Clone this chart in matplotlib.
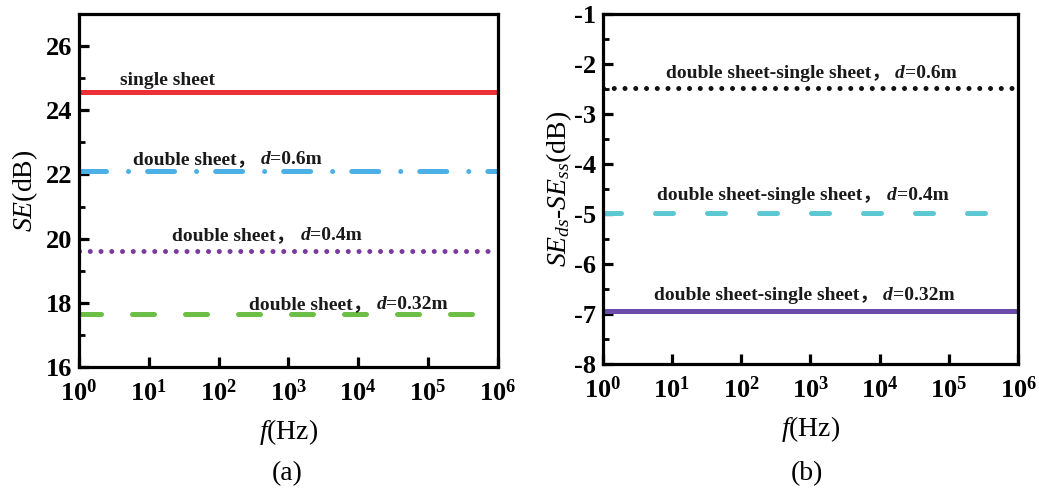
import numpy as np
import matplotlib
matplotlib.use("Agg")
import matplotlib.pyplot as plt
from matplotlib.ticker import FixedLocator, MultipleLocator, LogFormatterSciNotation, NullLocator

plt.rcParams['font.family'] = ['Liberation Serif', 'Noto Sans CJK SC']
plt.rcParams['mathtext.fontset'] = 'custom'
plt.rcParams['mathtext.rm'] = 'Liberation Serif'
plt.rcParams['mathtext.it'] = 'Liberation Serif:italic'
plt.rcParams['mathtext.bf'] = 'Liberation Serif:bold'
plt.rcParams['axes.unicode_minus'] = False

# ---------------- data ----------------
freq = [1.0, 1e6]
se_single = 24.57
se_d06 = 22.10
se_d04 = 19.60
se_d032 = 17.65
diff_d06 = -2.48
diff_d04 = -4.98
diff_d032 = -6.94

xticks = [1e0, 1e1, 1e2, 1e3, 1e4, 1e5, 1e6]
yticks_a = [16, 18, 20, 22, 24, 26]
yticks_b = [-8, -7, -6, -5, -4, -3, -2, -1]

fig = plt.figure(figsize=(10.39, 4.91), dpi=100)
ax1 = fig.add_axes([0.076, 0.2525, 0.403, 0.719])
ax2 = fig.add_axes([0.580, 0.2587, 0.400, 0.713])

TICKFS = 19
LABFS = 20
ANNFS = 14
LW = 3.6


def style_axes(ax):
    ax.set_xscale('log')
    ax.set_xlim(1, 1e6)
    ax.xaxis.set_major_locator(FixedLocator(xticks))
    ax.xaxis.set_minor_locator(NullLocator())
    ax.xaxis.set_major_formatter(LogFormatterSciNotation())
    for s in ax.spines.values():
        s.set_linewidth(2.3)
    ax.tick_params(which='major', direction='in', length=7, width=2.3,
                   labelsize=TICKFS, pad=5, top=False, right=False)
    ax.tick_params(axis='x', which='major', pad=9)
    ax.tick_params(which='minor', direction='in', length=4.5, width=2.0,
                   top=False, right=False)
    for lab in ax.get_xticklabels() + ax.get_yticklabels():
        lab.set_fontweight('bold')


def place_label(ax, x, y, parts):
    prev = None
    for txt, style in parts:
        kw = dict(fontsize=ANNFS, fontweight='bold', va='baseline', ha='left',
                  color='#1a1a1a')
        dx = 0
        if style == 'it':
            kw['fontstyle'] = 'italic'
            dx = 3.5
        if prev is None:
            prev = ax.annotate(txt, xy=(x, y), xycoords='data', **kw)
        else:
            prev = ax.annotate(txt, xy=(1, y), xycoords=(prev, 'data'),
                               xytext=(dx, 0), textcoords='offset points', **kw)


# ---------------- panel (a) ----------------
ax1.plot(freq, [se_single] * 2, color='#EC3237', lw=LW, solid_capstyle='butt')
ax1.plot(freq, [se_d06] * 2, color='#4AB0E6', lw=LW,
         linestyle=(0, (5.4, 4.4, 0.01, 3.8)), dash_capstyle='round')
ax1.plot(freq, [se_d04] * 2, color='#7B3A9E', lw=LW,
         linestyle=(0, (0.01, 2.14)), dash_capstyle='round')
ax1.plot(freq, [se_d032] * 2, color='#6CBE45', lw=LW,
         linestyle=(0, (4.4, 6.2)), dash_capstyle='round')
ax1.set_ylim(16, 27)
ax1.yaxis.set_major_locator(FixedLocator(yticks_a))
ax1.yaxis.set_minor_locator(MultipleLocator(1))
style_axes(ax1)

place_label(ax1, 10 ** 0.586, 24.8, [("single sheet", 'n')])
place_label(ax1, 10 ** 0.77, 22.33, [("double sheet，", 'n'), ("d", 'it'), ("=0.6m", 'n')])
place_label(ax1, 10 ** 1.34, 19.96, [("double sheet，", 'n'), ("d", 'it'), ("=0.4m", 'n')])
place_label(ax1, 10 ** 2.43, 17.8, [("double sheet，", 'n'), ("d", 'it'), ("=0.32m", 'n')])

ax1.set_ylabel(r"$SE$(dB)", fontsize=LABFS, labelpad=4)
ax1.set_xlabel(r"$f$(Hz)", fontsize=LABFS, labelpad=8)
fig.text(0.276, 0.035, "(a)", fontsize=LABFS, ha='center', va='center')

# ---------------- panel (b) ----------------
ax2.plot(freq, [diff_d06] * 2, color='#111111', lw=LW,
         linestyle=(0, (0.01, 2.14)), dash_capstyle='round')
ax2.plot(freq, [diff_d04] * 2, color='#5CC8D2', lw=LW,
         linestyle=(0, (3.6, 6.8)), dash_capstyle='round')
ax2.plot(freq, [diff_d032] * 2, color='#6A4CA8', lw=LW, solid_capstyle='butt')
ax2.set_ylim(-8, -1)
ax2.yaxis.set_major_locator(FixedLocator(yticks_b))
ax2.yaxis.set_minor_locator(MultipleLocator(0.5))
style_axes(ax2)

place_label(ax2, 10 ** 0.909, -2.29,
            [("double sheet-single sheet，", 'n'), ("d", 'it'), ("=0.6m", 'n')])
place_label(ax2, 10 ** 0.79, -4.73,
            [("double sheet-single sheet，", 'n'), ("d", 'it'), ("=0.4m", 'n')])
place_label(ax2, 10 ** 0.736, -6.73,
            [("double sheet-single sheet，", 'n'), ("d", 'it'), ("=0.32m", 'n')])

ax2.set_ylabel(r"$SE_{ds}$-$SE_{ss}$(dB)", fontsize=LABFS, labelpad=0)
ax2.set_xlabel(r"$f$(Hz)", fontsize=LABFS, labelpad=8)
fig.text(0.777, 0.035, "(b)", fontsize=LABFS, ha='center', va='center')

fig.savefig("out.png", dpi=100)
